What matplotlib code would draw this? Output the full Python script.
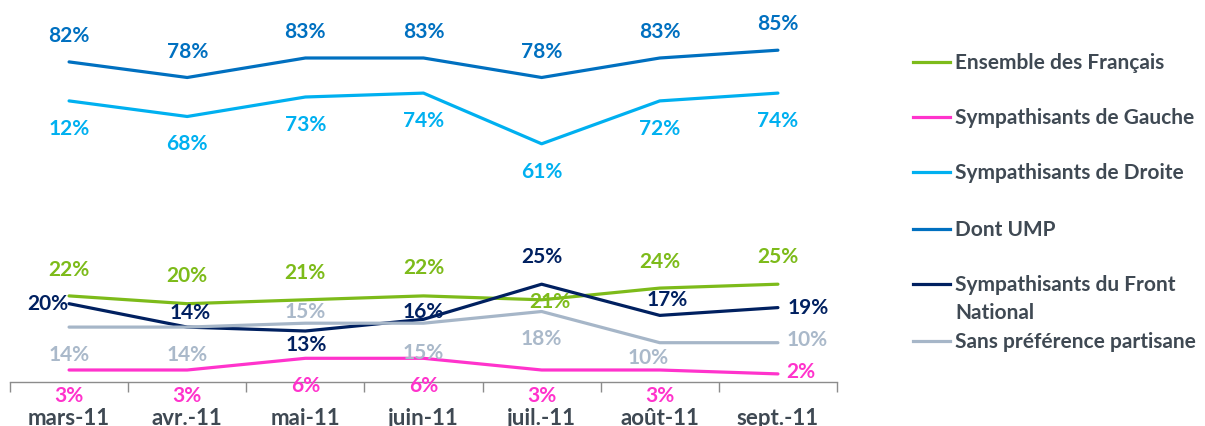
import matplotlib
matplotlib.use("Agg")
import matplotlib.pyplot as plt
from matplotlib.lines import Line2D

months = ["mars-11", "avr.-11", "mai-11", "juin-11", "juil.-11", "août-11", "sept.-11"]
series_names = ["Ensemble des Français", "Sympathisants de Gauche", "Sympathisants de Droite",
                "Dont UMP", "Sympathisants du Front\nNational", "Sans préférence partisane"]
ensemble = [22, 20, 21, 22, 21, 24, 25]
gauche = [3, 3, 6, 6, 3, 3, 2]
droite = [72, 68, 73, 74, 61, 72, 74]
ump = [82, 78, 83, 83, 78, 83, 85]
fn = [20, 14, 13, 16, 25, 17, 19]
sans_pref = [14, 14, 15, 15, 18, 10, 10]
# data labels as printed on the original chart (first Droite label reads "12%")
droite_labels = ["12%", "68%", "73%", "74%", "61%", "72%", "74%"]

colors = ["#7DBB1A", "#FF33CC", "#00B0F0", "#0070C0", "#002060", "#A6B6C8"]
label_colors = ["#7DBB1A", "#FF33CC", "#00B0F0", "#0070C0", "#002060", "#AAB9CA"]

# label offsets in pixels (dx, dy) for each series / point
offsets = [
    [(0, 27), (0, 29), (0, 28), (0, 29), (8, -1), (0, 27), (0, 28)],
    [(0, -25), (0, -25), (0, -27), (0, -27), (0, -25), (0, -25), (23, 3)],
    [(0, -27)] * 7,
    [(0, 27)] * 7,
    [(-21, 1), (3, 15), (1, -13), (0, 8), (0, 28), (7, 16), (30, 1)],
    [(0, -27), (0, -27), (0, 12), (0, -29), (0, -27), (-12, -14), (29, 4)],
]

plt.rcParams['font.family'] = ['Lato', 'DejaVu Sans']
W, H = 1205, 427
fig = plt.figure(figsize=(W / 100, H / 100), dpi=100)
axis_y = 382.7
left_px, right_px = 10, 837
ax = fig.add_axes([left_px / W, (H - axis_y) / H, (right_px - left_px) / W, axis_y / H])
ax.set_xlim(-0.5, len(months) - 0.5)
ax.set_ylim(0, axis_y / 3.9)

all_series = [ensemble, gauche, droite, ump, fn, sans_pref]
x = list(range(len(months)))
for i, vals in enumerate(all_series):
    ax.plot(x, vals, color=colors[i], lw=2.3, solid_capstyle='round', zorder=3)
for i, vals in enumerate(all_series):
    for j, v in enumerate(vals):
        txt = droite_labels[j] if i == 2 else f"{v}%"
        dx, dy = offsets[i][j]
        ax.annotate(txt, (j, v), xytext=(dx, dy), textcoords='offset pixels',
                    ha='center', va='center', fontsize=15, fontweight='bold',
                    color=label_colors[i], zorder=4)

for s in ["top", "right", "left"]:
    ax.spines[s].set_visible(False)
ax.spines["bottom"].set_color("#8C8C8C")
ax.spines["bottom"].set_linewidth(1.0)
ax.set_yticks([])
ax.set_xticks(x)
ax.set_xticklabels(months, fontsize=16, fontweight='bold', color="#3F4953")
ax.tick_params(axis='x', which='major', length=0, pad=18)
ax.set_xticks([k - 0.5 for k in range(len(months) + 1)], minor=True)
ax.tick_params(axis='x', which='minor', length=7, color="#8C8C8C", width=1.0, direction='out')
ax.patch.set_alpha(0)

# legend drawn manually
rows = [63, 118, 173, 230, 285, 342]
for i, name in enumerate(series_names):
    yy = 1 - rows[i] / H
    fig.add_artist(Line2D([913 / W, 950 / W], [yy, yy], color=colors[i], lw=2.3,
                          transform=fig.transFigure))
    for k, part in enumerate(name.split("\n")):
        fig.text(955 / W, 1 - (rows[i] + 28 * k) / H, part, ha='left', va='center',
                 fontsize=15, fontweight='bold', color="#3F4953")

fig.savefig("out.png", dpi=100)
